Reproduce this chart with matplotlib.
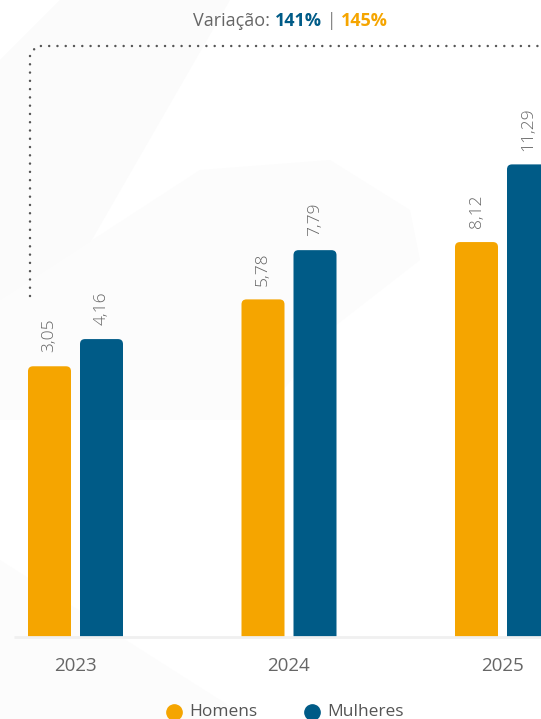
import matplotlib
matplotlib.use("Agg")
import matplotlib.pyplot as plt
from matplotlib.patches import FancyBboxPatch, Polygon
from matplotlib.lines import Line2D

# data
years = ["2023", "2024", "2025"]
homens = [3.05, 5.78, 8.12]
mulheres = [4.16, 7.79, 11.29]
series_names = ["Homens", "Mulheres"]
var_homens = "145%"
var_mulheres = "141%"

c_orange = "#F5A500"
c_blue = "#005B87"
c_text = "#666666"

plt.rcParams['font.family'] = ['Open Sans', 'DejaVu Sans']

W, H = 541, 719
fig = plt.figure(figsize=(W / 100, H / 100), dpi=100)
fig.patch.set_facecolor("white")

# faint background shapes
bg = fig.add_axes([0, 0, 1, 1], zorder=-5)
bg.set_xlim(0, W)
bg.set_ylim(H, 0)
bg.axis("off")
bg.add_patch(Polygon([(0, 60), (60, 0), (230, 0), (40, 330), (0, 330)], closed=True,
                     facecolor="#fbfbfb", edgecolor="none"))
bg.add_patch(Polygon([(0, 300), (200, 170), (330, 160), (410, 210), (420, 260),
                      (330, 330), (260, 420), (0, 420)], closed=True,
                     facecolor="#fcfcfc", edgecolor="none"))
bg.add_patch(Polygon([(0, 560), (250, 719), (0, 719)], closed=True,
                     facecolor="#fcfcfc", edgecolor="none"))

# main axes: baseline at y=637 px, top at 0
base = 637
ax = fig.add_axes([0, (H - base) / H, 1, base / H])
ax.patch.set_alpha(0)
ymin, ymax = -8.0, 18.0
x0px = 75.5
unit = 213.5
ax.set_xlim(-x0px / unit, (W - x0px) / unit)
ax.set_ylim(ymin, ymax)
ax.axis("off")

bw = 43 / unit
off = 26 / unit
xl = ax.get_xlim()
asp = ((ymax - ymin) / base) / (1 / unit)

for i, y in enumerate(years):
    for val, c, dx in [(homens[i], c_orange, -off), (mulheres[i], c_blue, off)]:
        left = i + dx - bw / 2
        p = FancyBboxPatch((left, ymin - 1), bw, val - ymin + 1,
                           boxstyle="round,pad=0,rounding_size=%f" % (5 / unit),
                           mutation_aspect=asp, facecolor=c, edgecolor="none")
        ax.add_patch(p)
        ax.annotate(f"{val:.2f}".replace(".", ","), (i + dx, val),
                    xytext=(0, 10), textcoords="offset points",
                    rotation=90, ha="center", va="bottom",
                    fontsize=12.5, color=c_text, fontweight="light")

# baseline
ax.plot([(14 - x0px) / unit, xl[1]], [ymin, ymin], color="#f0f0f0", lw=2,
        clip_on=False, solid_capstyle="butt")

# year labels
for i, y in enumerate(years):
    bg.text(x0px + i * unit, 666, y, ha="center", va="center",
            fontsize=13.5, color=c_text)

# dotted bracket
dot = dict(color="#555555", lw=1.8, linestyle=(0, (0.01, 3.3)),
           dash_capstyle="round")
bg.add_line(Line2D([30, 30, 37, W], [296, 54, 46, 46], **dot))

# title with coloured parts
fig.canvas.draw()
r = fig.canvas.get_renderer()
parts = [("Variação: ", c_text, "normal"), (var_mulheres, c_blue, "bold"),
         (" | ", "#888888", "normal"), (var_homens, c_orange, "bold")]
x = 193
for s, c, w in parts:
    t = bg.text(x, 21, s, ha="left", va="center", fontsize=13, color=c,
                fontweight=w)
    x += t.get_window_extent(renderer=r).width

# legend
for xm, name, c in [(174, series_names[0], c_orange), (312, series_names[1], c_blue)]:
    bg.plot([xm], [712], marker="o", ms=11, color=c, clip_on=False)
    bg.text(xm + 15, 712, name, ha="left", va="center", fontsize=12.5,
            color="#555555")

fig.savefig("out.png", dpi=100)
